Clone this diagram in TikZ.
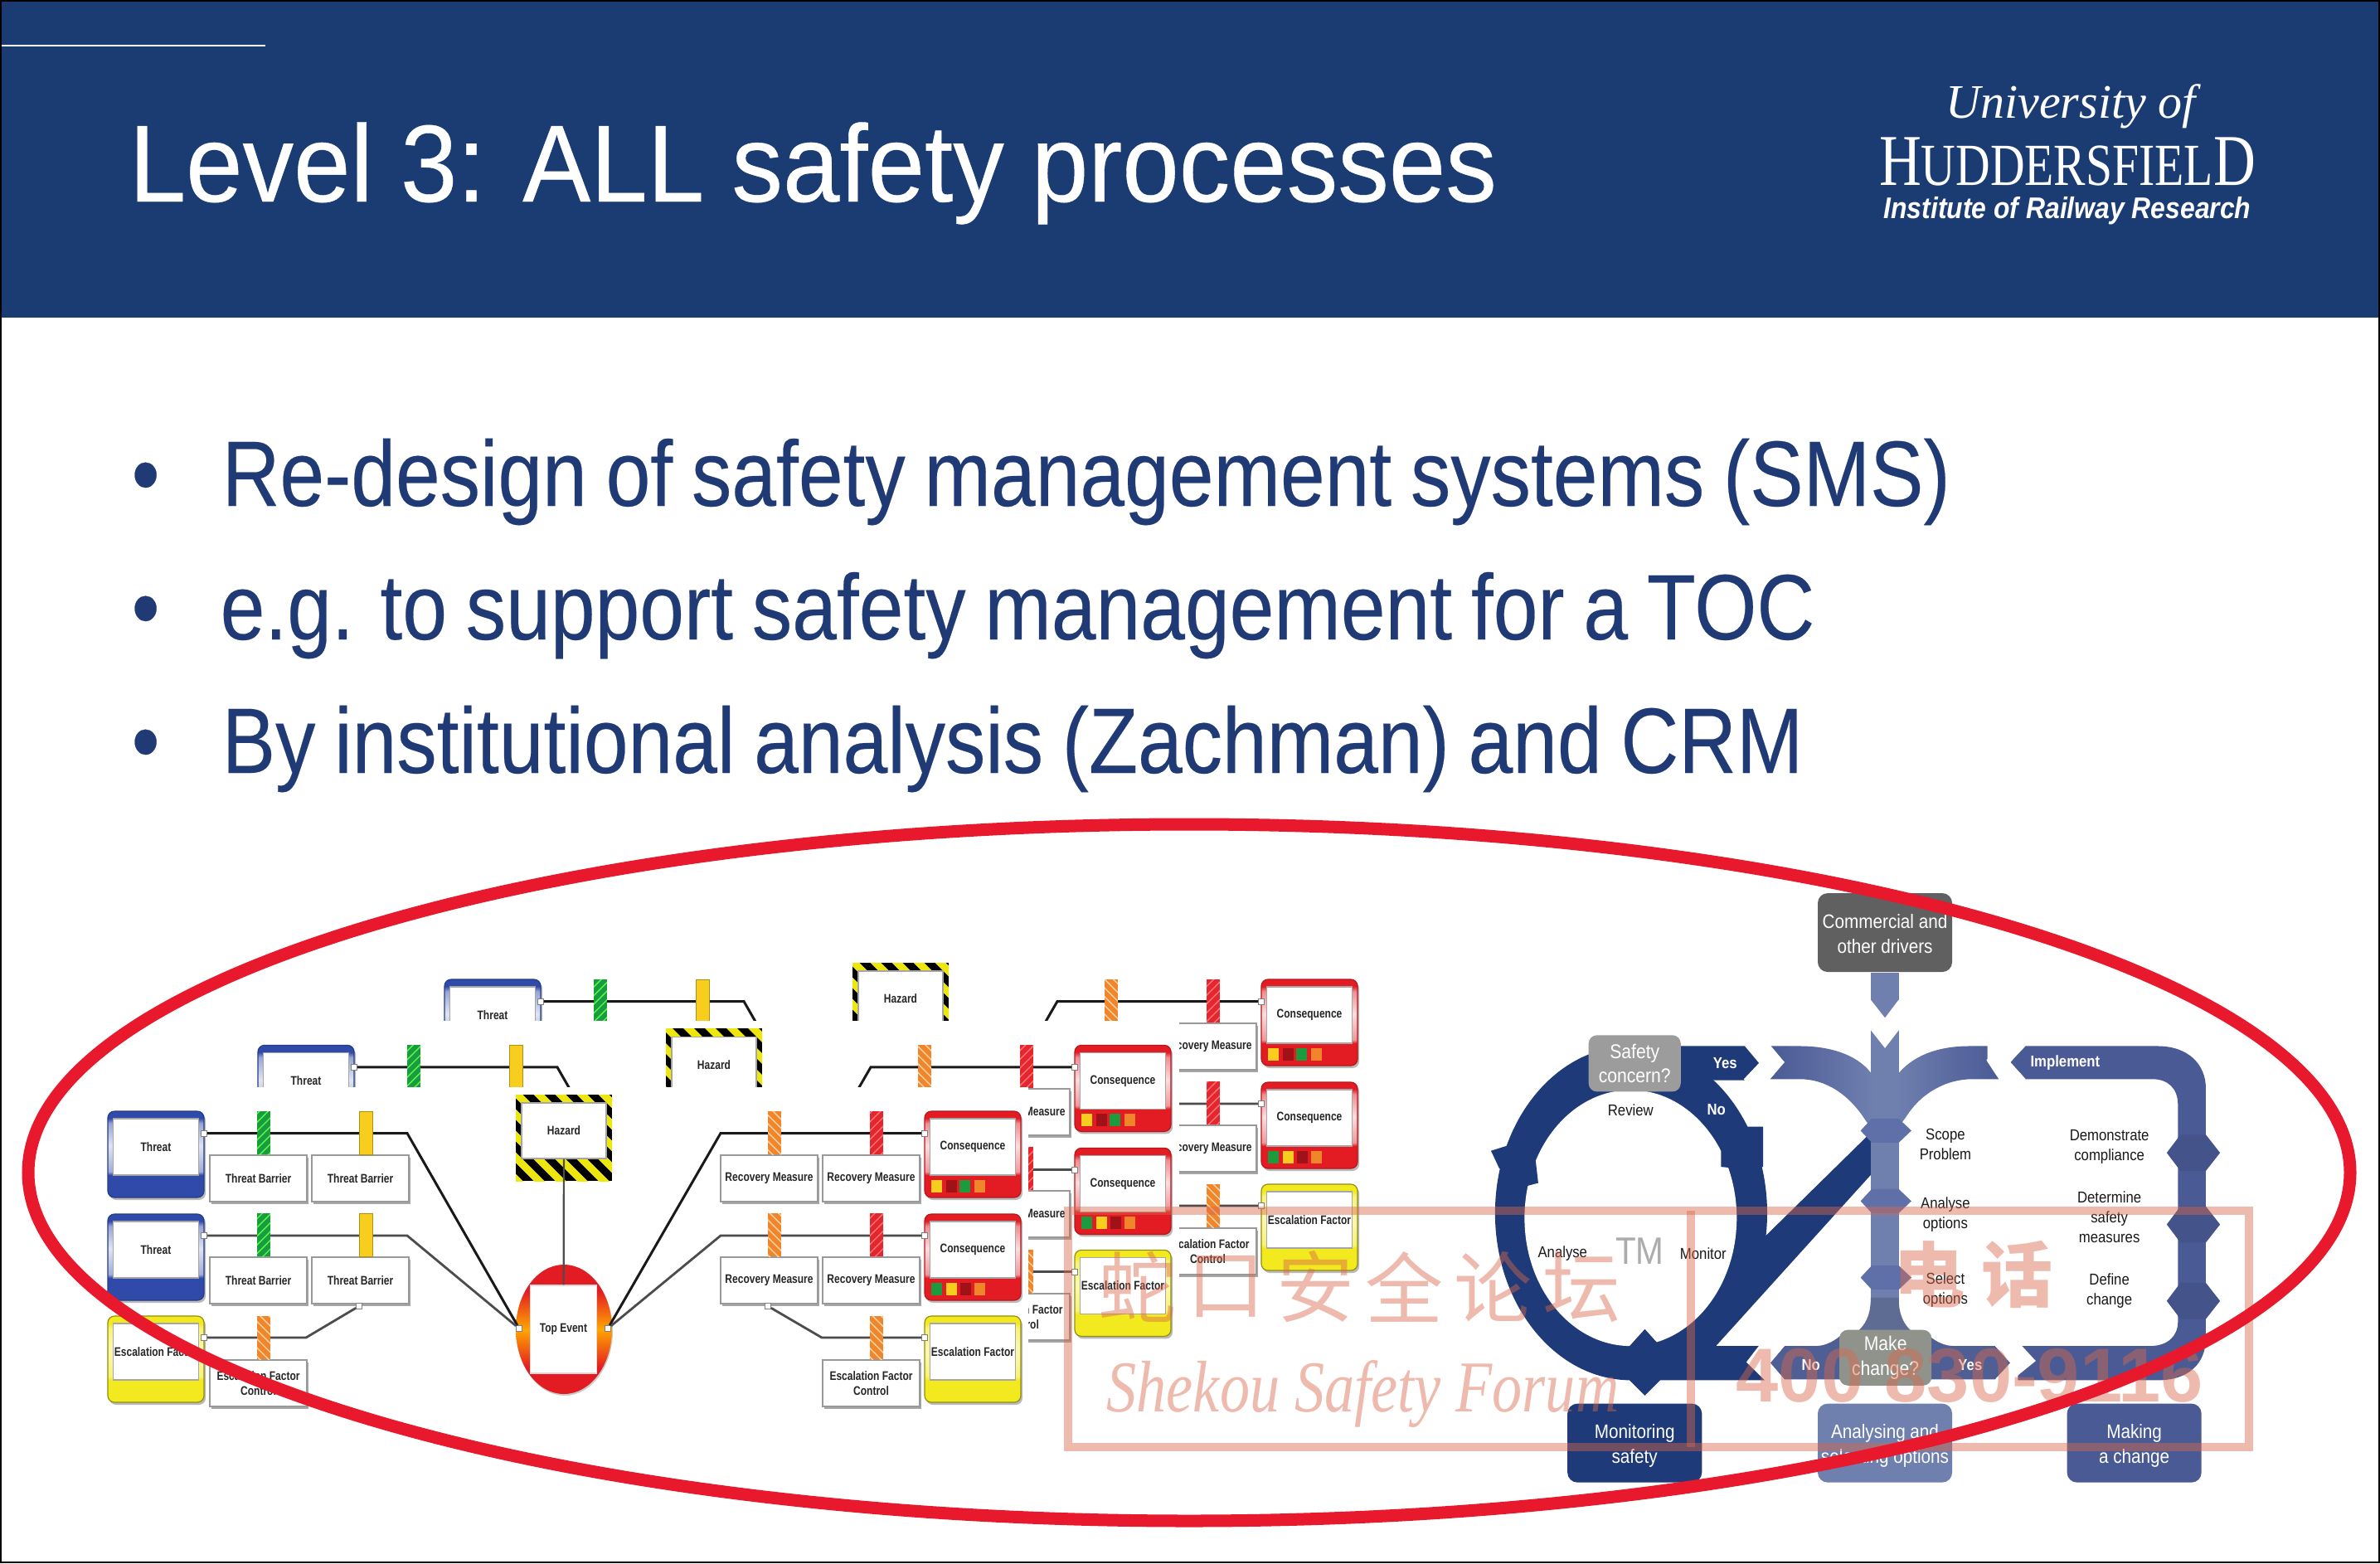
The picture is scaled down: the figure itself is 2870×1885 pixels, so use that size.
\documentclass[tikz,border=0pt]{standalone}
\usepackage{fontspec}
\usetikzlibrary{patterns,shadows}
\setmainfont{Liberation Sans}
\newfontfamily\ttl[FakeStretch=.932,WordSpace=.97,FakeBold=.3]{Liberation Sans}
\newfontfamily\bod[FakeStretch=.862,WordSpace=.85,FakeBold=.2]{Liberation Sans}
\newfontfamily\nar[FakeStretch=.88]{Liberation Sans}
\newfontfamily\bow[FakeStretch=.8]{Liberation Sans}
\newfontfamily\ins[FakeStretch=.885]{Liberation Sans}
\newfontfamily\ser{Liberation Serif}
\newfontfamily\sern[FakeStretch=.8]{Liberation Serif}
\newfontfamily\serw[FakeStretch=.82]{Liberation Serif}
\newfontfamily\cjk{Noto Sans CJK SC}
\newcommand{\fpx}[2]{\fontsize{\the\dimexpr #1pt*2845/10000\relax}{\the\dimexpr #2pt*2845/10000\relax}\selectfont}
\definecolor{hdr}{HTML}{1B3B73}
\definecolor{bodyc}{HTML}{1F3A74}
\definecolor{navy}{HTML}{1F3A78}
\definecolor{midb}{HTML}{4A5A95}
\definecolor{stemb}{HTML}{6F7FAE}
\definecolor{nodeb}{HTML}{5F70A8}
\definecolor{tb}{HTML}{2F4AA8}
\definecolor{tr}{HTML}{E31B23}
\definecolor{ty}{HTML}{F2EA1E}
\definecolor{pgreen}{HTML}{1B9A3E}
\definecolor{pyel}{HTML}{F7CE1D}
\definecolor{porg}{HTML}{F0852A}
\definecolor{pred}{HTML}{E6262E}
\definecolor{hzy}{HTML}{EDE60F}
\definecolor{wm}{HTML}{D9684B}
\definecolor{rring}{HTML}{E8192C}
\definecolor{makeg}{HTML}{8F938C}
\pgfdeclareverticalshading{frameblue}{100bp}{color(0bp)=(tb); color(38bp)=(tb); color(40bp)=(tb!45!white); color(55bp)=(tb!15!white); color(68bp)=(tb!50!white); color(71bp)=(tb); color(100bp)=(tb)}
\pgfdeclareverticalshading{framered}{100bp}{color(0bp)=(tr); color(38bp)=(tr); color(40bp)=(tr!45!white); color(55bp)=(tr!15!white); color(68bp)=(tr!50!white); color(71bp)=(tr); color(100bp)=(tr)}
\pgfdeclareverticalshading{frameyel}{100bp}{color(0bp)=(ty); color(38bp)=(ty); color(40bp)=(ty!60!white); color(55bp)=(ty!35!white); color(68bp)=(ty!60!white); color(71bp)=(ty); color(100bp)=(ty)}
\pgfdeclareverticalshading{teshade}{100bp}{color(0bp)=(tr); color(35bp)=(tr); color(50bp)=(orange!70!yellow); color(65bp)=(tr); color(100bp)=(tr)}
\tikzset{
  x=.01cm,y=-.01cm,
  inframe/.style={draw=gray!70,fill=white,line width=.012cm,minimum width=1.03cm,minimum height=.68cm,inner sep=0pt,font=\bow\bfseries\fpx{15}{18},text=black!85,align=center},
  bxn/.style={draw=gray!80,fill=white,line width=.02cm,minimum width=1.17cm,minimum height=.56cm,inner sep=0pt,anchor=north west,font=\bow\bfseries\fpx{15}{18},text=black!85,align=center,drop shadow={shadow xshift=.02cm,shadow yshift=-.03cm,fill=gray!70,opacity=1}},
  port/.style={draw=gray,fill=white,line width=.008cm,minimum size=.07cm,inner sep=0pt},
  linkA/.style={draw=black!90,line width=.03cm},
  linkB/.style={draw=black!70,line width=.028cm},
  pg/.style={fill=pgreen,postaction={pattern=north east lines,pattern color=green!70!white}},
  py/.style={fill=pyel,draw=pyel!70!black,line width=.005cm},
  po/.style={fill=porg,postaction={pattern=north west lines,pattern color=orange!35!white}},
  pr/.style={fill=pred,postaction={pattern=north east lines,pattern color=red!55!white}},
  lab/.style={font=\nar\fpx{19}{24},align=center,inner sep=0pt,text=black!90},
  whitebold/.style={font=\nar\bfseries\fpx{19}{24},inner sep=0pt,text=white},
  flow/.style={rounded corners=.12cm,minimum width=1.62cm,minimum height=.95cm,inner sep=0pt,align=center,text=white,font=\nar\fpx{23.5}{29.5}},
  small/.style={rounded corners=.1cm,inner sep=0pt,align=center,text=white,font=\nar\fpx{24}{29.5}},
  bodyt/.style={anchor=base west,inner sep=0pt,text=bodyc,font=\bod\fpx{112}{130}},
  wmt/.style={inner sep=0pt,text=wm},
}
\newcommand{\framed}[6]{%
  \fill[gray!55,rounded corners=.08cm] ({#2+2},{#3+3}) rectangle ++(116,104);
  \shade[shading=#4,rounded corners=.08cm] (#2,#3) rectangle ++(116,104);
  \draw[#5,line width=.012cm,rounded corners=.08cm] (#2,#3) rectangle ++(116,104);
  \node[inframe] (#1) at ({#2+58},{#3+43}) {#6};
}
\newcommand{\minisq}[4]{\fill[#4] ({#1+#2},{#3+83}) rectangle ++(13,15);}
\newcommand{\bowlayer}[3]{%
\begin{scope}[shift={(#2,#3)}]
  % left frames
  \framed{#1thA}{130}{1340}{frameblue}{tb!80!black}{Threat}
  \framed{#1thB}{130}{1464}{frameblue}{tb!80!black}{Threat}
  \framed{#1esL}{130}{1587}{frameyel}{ty!60!black}{Escalation Factor}
  % hazard
  \begin{scope}
    \clip (622,1320) rectangle ++(116,104);
    \fill[black] (622,1320) rectangle ++(116,104);
    \foreach \i in {-3,...,7} \draw[hzy,line width=.09cm] ({622+\i*26-70},1300) -- ++(160,160);
  \end{scope}
  \node[inframe,minimum height=.67cm,minimum width=1.02cm] (#1haz) at (680,1363.5) {Hazard};
  % top event
  \fill[gray!40] (681,1605) ellipse [x radius=58,y radius=78];
  \shade[shading=teshade] (680,1603) ellipse [x radius=58,y radius=78];
  \node[inframe,minimum width=.805cm,minimum height=1.06cm,draw=gray!30] (#1top) at (679.5,1603) {Top Event};
  \node[port] (#1tl) at (626,1602) {};
  \node[port] (#1tr) at (733,1602) {};
  % right frames
  \framed{#1coA}{1115}{1340}{framered}{tr!80!black}{Consequence}
  \framed{#1coB}{1115}{1464}{framered}{tr!80!black}{Consequence}
  \framed{#1esR}{1115}{1587}{frameyel}{ty!60!black}{Escalation Factor}
  \minisq{1115}{8}{1340}{pyel}\minisq{1115}{26}{1340}{tr!70!black}\minisq{1115}{42}{1340}{pgreen}\minisq{1115}{60}{1340}{porg}
  \minisq{1115}{8}{1464}{pgreen}\minisq{1115}{26}{1464}{pyel}\minisq{1115}{43}{1464}{tr!70!black}\minisq{1115}{60}{1464}{porg}
  % ports
  \node[port] (#1pA) at (246,1366.5) {};
  \node[port] (#1pB) at (246,1490) {};
  \node[port] (#1pC) at (246,1613) {};
  \node[port] (#1qA) at (1115,1366.5) {};
  \node[port] (#1qB) at (1115,1490) {};
  \node[port] (#1qC) at (1115,1613) {};
  % boxes
  \node[bxn] (#1bA1) at (252,1392) {Threat Barrier};
  \node[bxn] (#1bA2) at (375,1392) {Threat Barrier};
  \node[bxn] (#1bB1) at (252,1515) {Threat Barrier};
  \node[bxn] (#1bB2) at (375,1515) {Threat Barrier};
  \node[bxn] (#1bC1) at (252,1639) {Escalation Factor\\Control};
  \node[bxn] (#1rA1) at (868,1392) {Recovery Measure};
  \node[bxn] (#1rA2) at (991,1392) {Recovery Measure};
  \node[bxn] (#1rB1) at (868,1515) {Recovery Measure};
  \node[bxn] (#1rB2) at (991,1515) {Recovery Measure};
  \node[bxn] (#1rC1) at (991,1639) {Escalation Factor\\Control};
  \node[port] (#1pX) at (433,1575) {};
  \node[port] (#1qX) at (926,1575) {};
  % bends
  \coordinate (#1kA) at (491,1366.5);
  \coordinate (#1kB) at (491,1490);
  \coordinate (#1kC) at (369,1613);
  \coordinate (#1mA) at (869,1366.5);
  \coordinate (#1mB) at (869,1490);
  \coordinate (#1mC) at (991,1613);
  % connectors
  \draw[linkA] (#1pA) -- (#1kA) -- (#1tl);
  \draw[linkB] (#1pB) -- (#1kB) -- (#1tl);
  \draw[linkB] (#1pC) -- (#1kC) -- (#1pX);
  \draw[linkA] (#1qA) -- (#1mA) -- (#1tr);
  \draw[linkB] (#1qB) -- (#1mB) -- (#1tr);
  \draw[linkB] (#1qC) -- (#1mC) -- (#1qX);
  \draw[linkB,line width=.022cm] (#1haz) -- (#1top);
  % pillars
  \path[pg] (310,1340) rectangle ++(16,52);
  \path[py] (433,1340) rectangle ++(16,52);
  \path[pg] (310,1463) rectangle ++(16,52);
  \path[py] (433,1463) rectangle ++(16,52);
  \path[po] (310,1587) rectangle ++(16,52);
  \path[po] (926,1340) rectangle ++(16,52);
  \path[pr] (1049,1340) rectangle ++(16,52);
  \path[po] (926,1463) rectangle ++(16,52);
  \path[pr] (1049,1463) rectangle ++(16,52);
  \path[po] (1049,1587) rectangle ++(16,52);
\end{scope}
}
\begin{document}
\begin{tikzpicture}
\useasboundingbox (0,0) rectangle (2870,1885);
\fill[white] (0,0) rectangle (2870,1885);
% header
\fill[hdr] (0,0) rectangle (2870,383);
\draw[white,line width=.012cm] (0,55) -- (320,55);
\node[anchor=base west,inner sep=0pt,text=white,font=\ttl\fpx{132}{150}] (title) at (155,243) {Level 3: ALL safety processes};
% logo
\node[anchor=base,inner sep=0pt,text=white,font=\ser\itshape\fpx{58}{60}] (lg1) at (2497,143) {University of};
\node[anchor=base,inner sep=0pt,text=white,font=\sern\fpx{72}{80}] (lg2) at (2493,223) {{\fpx{88}{90}H}UDDERSFIEL{\fpx{88}{90}D}};
\node[anchor=base,inner sep=0pt,text=white,font=\ins\bfseries\itshape\fpx{36}{40}] (lg3) at (2493,263) {Institute of Railway Research};
% bullets
\node[bodyt] (bl1) at (158,610) {•};
\node[bodyt] (bl2) at (158,771) {•};
\node[bodyt] (bl3) at (158,932) {•};
\node[bodyt] (tx1) at (267,610) {Re-design of safety management systems (SMS)};
\node[bodyt] (tx2) at (265,771) {e.g. to support safety management for a TOC};
\node[bodyt] (tx3) at (267,932) {By institutional analysis (Zachman) and CRM};
% bow-tie sheets
\bowlayer{c}{406}{-159}
\fill[white] (300,1231) rectangle (1422,1720);
\bowlayer{b}{181}{-79.6}
\fill[white] (100,1311) rectangle (1240,1720);
\bowlayer{a}{0}{0}
% safety diagram
\begin{scope}[shift={(1760,1060)},x=.006122cm,y=-.004847cm]
  % ring and diagonal
  \fill[navy] (338,830) ellipse [x radius=268,y radius=415];
  \fill[navy] (600,890) -- (810,630) -- (810,735) -- (505,1160) -- (620,1160) -- (585,1202) -- (620,1245) -- (340,1245) -- (340,1100) -- (500,800) -- cycle;
  \fill[white] (337,842) ellipse [x radius=209,y radius=318];
  % yes arrow
  \fill[navy] (430,415) -- (565,415) -- (592,457) -- (565,500) -- (430,500) -- cycle;
  % markers on ring
  \fill[navy] (62,675) -- (100,660) -- (150,700) -- (155,755) -- (125,765) -- (78,718) -- cycle;
  \fill[navy] (515,640) -- (545,615) -- (598,615) -- (598,715) -- (560,720) -- (515,715) -- cycle;
  \fill[navy] (365,1118) -- (395,1160) -- (395,1245) -- (365,1283) -- (335,1245) -- (335,1160) -- cycle;
  % stem and flare
  \fill[stemb] (810,232) rectangle (865,1130);
  \fill[stemb!85!black] (810,1040) .. controls (810,1100) and (790,1130) .. (745,1150) -- (930,1150) .. controls (885,1130) and (865,1100) .. (865,1040) -- cycle;
  % left curve to stem
  \shade[left color=midb,right color=stemb] (612,415) -- (670,415) .. controls (735,415) and (790,440) .. (815,490) -- (815,625) -- (800,600) .. controls (770,540) and (725,497) .. (670,497) -- (612,497) -- (640,455) -- cycle;
  % right curve to stem
  \shade[left color=stemb,right color=midb] (1040,415) -- (1005,415) .. controls (940,415) and (890,440) .. (860,490) -- (860,625) -- (880,590) .. controls (910,530) and (960,497) .. (1010,497) -- (1062,497) -- (1040,455) -- cycle;
  % right loop
  \fill[midb] (1085,455) -- (1115,415) -- (1375,415) .. controls (1435,415) and (1470,460) .. (1470,520) -- (1470,1140) .. controls (1470,1205) and (1435,1245) .. (1375,1245) -- (1100,1245) -- (1100,1160) -- (1360,1160) .. controls (1395,1160) and (1415,1135) .. (1415,1100) -- (1415,560) .. controls (1415,520) and (1395,497) .. (1365,497) -- (1115,497) -- cycle;
  % no / yes pieces
  \fill[midb!90!gray] (612,1202) -- (640,1160) -- (700,1160) .. controls (720,1160) and (735,1150) .. (750,1135) -- (750,1243) -- (640,1243) -- cycle;
  \fill[midb!90!gray] (925,1135) .. controls (940,1150) and (955,1160) .. (975,1160) -- (1055,1160) -- (1085,1202) -- (1055,1243) -- (925,1243) -- cycle;
  % stem nodes
  \foreach \c in {625,800,990} \fill[nodeb] (790,\c) -- (812,{\c-30}) -- (865,{\c-30}) -- (890,\c) -- (865,{\c+30}) -- (812,{\c+30}) -- cycle;
  % right loop nodes
  \foreach \c in {680,858,1048} \fill[midb!92!black] (1393,\c) -- (1420,{\c-45}) -- (1470,{\c-45}) -- (1498,\c) -- (1470,{\c+45}) -- (1420,{\c+45}) -- cycle;
  % white chevrons
  \fill[white] (785,335) -- (838,420) -- (890,335) -- (865,300) -- (838,345) -- (810,300) -- cycle;
  \fill[white] (585,372) -- (640,455) -- (585,535) -- (560,497) -- (590,457) -- (560,412) -- cycle;
  \fill[white] (1090,365) -- (1038,450) -- (1090,532) -- (1115,497) -- (1085,455) -- (1115,412) -- cycle;
  \fill[white] (615,1118) -- (565,1200) -- (615,1262) -- (640,1243) -- (612,1202) -- (640,1160) -- cycle;
  \fill[white] (1075,1115) -- (1135,1197) -- (1075,1258) -- (1055,1243) -- (1085,1202) -- (1055,1160) -- cycle;
  % boxes
  \node[flow,fill=gray!75!black] (drivers) at (838,133) {\rule{0pt}{.2cm}Commercial and\\other drivers};
  \node[flow,fill=navy] (monitor) at (345,1401) {\rule{0pt}{.24cm}Monitoring\\safety};
  \node[flow,fill=stemb] (analysing) at (838,1401) {\rule{0pt}{.24cm}Analysing and\\selecting options};
  \node[flow,fill=midb] (making) at (1329,1401) {\rule{0pt}{.24cm}Making\\a change};
  \node[small,fill=gray!78,minimum width=1.11cm,minimum height=.68cm] (concern) at (345,458) {Safety\\concern?};
  \node[small,fill=makeg,minimum width=1.11cm,minimum height=.67cm] (change) at (839,1189) {Make\\change?};
  % labels
  \node[whitebold] (yes1) at (523,457) {Yes};
  \node[whitebold] (no1) at (506,573) {No};
  \node[whitebold] (impl) at (1193,457) {Implement};
  \node[whitebold] (no2) at (692,1208) {No};
  \node[whitebold] (yes2) at (1006,1208) {Yes};
  \node[lab] (review) at (337,575) {Review};
  \node[lab] (analyse) at (203,930) {Analyse};
  \node[lab] (monit) at (480,930) {Monitor};
  \node[lab,text=gray!65,font=\nar\fpx{46}{50}] (tm) at (355,924) {TM};
  \node[lab] (scope) at (957,660) {Scope\\Problem};
  \node[lab] (aopt) at (957,833) {Analyse\\options};
  \node[lab] (sopt) at (957,1021) {Select\\options};
  \node[lab] (demo) at (1280,665) {Demonstrate\\compliance};
  \node[lab] (deter) at (1280,840) {Determine\\safety\\measures};
  \node[lab] (defch) at (1280,1022) {Define\\change};
\end{scope}
% watermark
\begin{scope}[opacity=.45]
  \draw[wm,line width=.1cm] (1288,1460) rectangle (2712,1745);
  \draw[wm,line width=.1cm] (2039,1460) -- (2039,1745);
  \foreach \n/\cx/\ch in {a/1372/蛇,b/1479/口,c/1586/安,d/1693/全,e/1800/论,f/1907/坛}
    \node[wmt,font=\cjk\fpx{94}{94}] (wm\n) at (\cx,1552) {\ch};
  \node[wmt,anchor=base west,font=\serw\itshape\fpx{88}{90}] (wmen) at (1334,1702) {Shekou Safety Forum};
  \node[wmt,font=\cjk\bfseries\fpx{86}{90}] (wmd) at (2326,1537) {电};
  \node[wmt,font=\cjk\bfseries\fpx{86}{90}] (wmh) at (2432,1537) {话};
  \node[wmt,anchor=base west,font=\bfseries\fpx{92}{95}] (wmp) at (2093,1690) {400 830-9116};
\end{scope}
% red ring
\draw[rring,line width=.15cm] (1434,1414) ellipse [x radius=1400,y radius=420];
% page edge
\draw[black,line width=.02cm] (1,1) rectangle (2869,1884);
\end{tikzpicture}
\end{document}
